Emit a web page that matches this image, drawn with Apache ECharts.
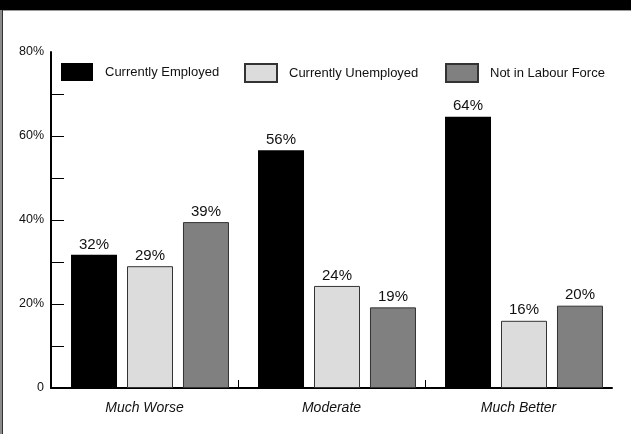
<!DOCTYPE html>
<html>
<head>
<meta charset="utf-8">
<script src="https://cdn.jsdelivr.net/npm/echarts@6/dist/echarts.min.js"></script>
<style>
  html, body { margin: 0; padding: 0; background: #fff; }
  #wrap { position: relative; width: 631px; height: 434px; overflow: hidden; }
  #chart { position: absolute; left: 0; top: 0; width: 631px; height: 434px; }
  .hdr { position: absolute; left: 0; top: 0; width: 631px; height: 10px; background: #000; }
  .hdrline { position: absolute; left: 0; top: 10px; width: 631px; height: 1px; background: #9a9a9a; }
  .lb1 { position: absolute; left: 0; top: 10px; width: 2px; height: 424px; background: #8c8c8c; }
  .lb2 { position: absolute; left: 2px; top: 10px; width: 1px; height: 424px; background: #333; }
</style>
</head>
<body>
<div id="wrap">
  <div id="chart"></div>
  <div class="hdr"></div>
  <div class="hdrline"></div>
  <div class="lb1"></div>
  <div class="lb2"></div>
</div>
<script>
// ---- data ----
const categories = ['Much Worse', 'Moderate', 'Much Better'];
const seriesNames = ['Currently Employed', 'Currently Unemployed', 'Not in Labour Force'];
const employed = [31.7, 56.6, 64.6];
const unemployed = [29.0, 24.3, 16.0];
const notInLabour = [39.5, 19.2, 19.6];
const employedLabels = [32, 56, 64];
const unemployedLabels = [29, 24, 16];
const notInLabourLabels = [39, 19, 20];
const yTickLabels = [0, 20, 40, 60, 80];
const yMinorTicks = [10, 20, 30, 40, 50, 60, 70];

const FONT = 'Liberation Sans';
const chart = echarts.init(document.getElementById('chart'), null, { renderer: 'canvas' });

function labelCfg(arr) {
  return {
    show: true,
    position: 'top',
    distance: 3,
    color: '#111',
    fontFamily: FONT,
    fontSize: 15,
    formatter: p => arr[p.dataIndex] + '%'
  };
}

const legendBase = {
  top: 63,
  padding: 0,
  itemWidth: 32,
  itemHeight: 18,
  icon: 'rect',
  selectedMode: false,
  textStyle: { fontFamily: FONT, fontSize: 13, color: '#111', padding: [0, 0, 0, 7] }
};

// boundary positions / label centres on a 0..N scale for the visible x axis
const catBoundaries = categories.map((c, i) => i).filter(i => i > 0);
const catCentres = categories.map((c, i) => i + 0.5);

chart.setOption({
  animation: false,
  backgroundColor: '#fff',
  legend: [
    Object.assign({}, legendBase, { left: 61, data: [seriesNames[0]] }),
    Object.assign({}, legendBase, { left: 244, data: [seriesNames[1]] }),
    Object.assign({}, legendBase, { left: 445, data: [seriesNames[2]] })
  ],
  grid: [
    { left: 51, right: 19, top: 52, bottom: 46 },
    { left: 56.5, right: 13.5, top: 52, bottom: 46 }
  ],
  xAxis: [
    {
      type: 'value', gridIndex: 0, min: 0, max: categories.length,
      axisLine: { show: true, lineStyle: { color: '#000', width: 2 } },
      axisTick: { show: true, inside: true, length: 8, customValues: catBoundaries, lineStyle: { color: '#000', width: 1 } },
      axisLabel: {
        customValues: catCentres,
        formatter: v => categories[Math.floor(v)],
        fontFamily: FONT, fontSize: 14, fontStyle: 'italic', color: '#111', margin: 13
      },
      splitLine: { show: false }
    },
    { type: 'category', gridIndex: 1, data: categories, show: false }
  ],
  yAxis: [
    {
      type: 'value', gridIndex: 0, min: 0, max: 80, interval: 20,
      axisLine: { show: true, lineStyle: { color: '#000', width: 2 } },
      axisTick: { show: true, inside: true, length: 13, customValues: yMinorTicks, lineStyle: { color: '#000', width: 1 } },
      axisLabel: {
        customValues: yTickLabels,
        fontFamily: FONT, fontSize: 12.5, color: '#111', margin: 7,
        formatter: v => v === 0 ? '0' : v + '%'
      },
      splitLine: { show: false }
    },
    { type: 'value', gridIndex: 1, min: 0, max: 80, show: false }
  ],
  series: [
    {
      name: seriesNames[0], type: 'bar', xAxisIndex: 1, yAxisIndex: 1,
      data: employed, barWidth: 46, barGap: '21.7%',
      itemStyle: { color: '#000' },
      label: labelCfg(employedLabels)
    },
    {
      name: seriesNames[1], type: 'bar', xAxisIndex: 1, yAxisIndex: 1,
      data: unemployed, barWidth: 46, barGap: '21.7%',
      itemStyle: { color: '#dcdcdc', borderColor: '#333', borderWidth: 1 },
      label: labelCfg(unemployedLabels)
    },
    {
      name: seriesNames[2], type: 'bar', xAxisIndex: 1, yAxisIndex: 1,
      data: notInLabour, barWidth: 46, barGap: '21.7%',
      itemStyle: { color: '#808080', borderColor: '#333', borderWidth: 1 },
      label: labelCfg(notInLabourLabels)
    }
  ]
});
</script>
</body>
</html>
